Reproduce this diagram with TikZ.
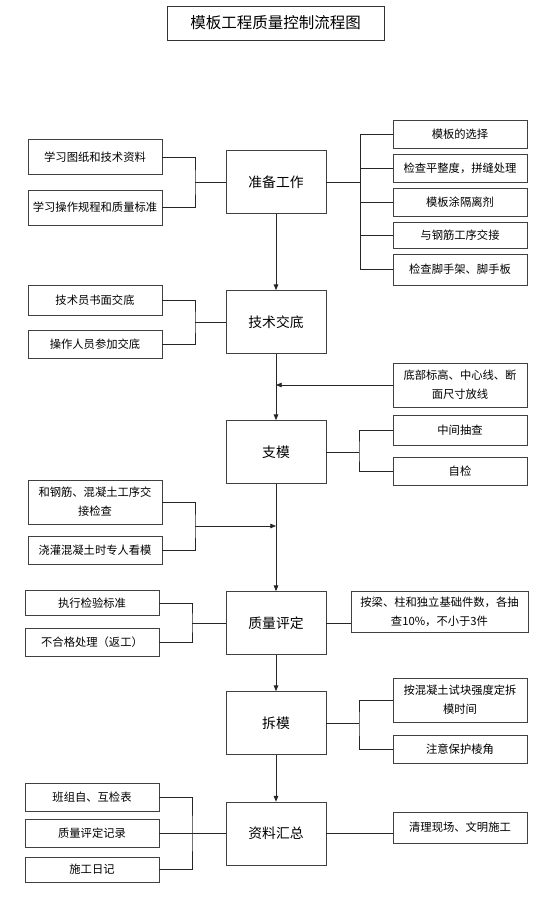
\documentclass[tikz,border=0pt]{standalone}
\usepackage{fontspec}
\setmainfont{Noto Sans CJK SC}
\usetikzlibrary{arrows.meta, positioning, calc}

\begin{document}
\begin{tikzpicture}[x=1pt, y=-1pt,
  box/.style={rectangle, draw=black!75, line width=0.7pt, minimum width=134pt, minimum height=28pt, inner sep=1pt, align=center, font=\fontsize{11.3}{19}\selectfont},
  stage/.style={rectangle, draw=black!75, line width=0.7pt, minimum width=100pt, minimum height=63pt, font=\fontsize{13.8}{16}\selectfont},
  link/.style={draw=black!85, line width=0.8pt},
  arrow/.style={link, -{Triangle[length=2mm, width=1.6mm]}},
]
\useasboundingbox (0,0) rectangle (555,900);

\node[draw=black!80, line width=0.8pt, minimum width=217pt, minimum height=34pt, font=\fontsize{15.5}{18}\selectfont] (title) at (275.5,23) {模板工程质量控制流程图};

% main stages
\node[stage] (prep) at (276,182) {准备工作};
\node[stage] (brief) at (276,322) {技术交底};
\node[stage] (erect) at (276,452) {支模};
\node[stage] (qual) at (276,623) {质量评定};
\node[stage] (strip) at (276,723) {拆模};
\node[stage] (docs) at (276,833.5) {资料汇总};

% left side
\node[box, minimum height=35pt] (drawings) at (95,157) {学习图纸和技术资料};
\node[box, minimum height=35pt] (rules) at (95,207.5) {学习操作规程和质量标准};
\node[box, minimum height=30pt] (written) at (95,300) {技术员书面交底};
\node[box] (staff) at (95,344) {操作人员参加交底};
\node[box, minimum height=44pt] (handover) at (95,502) {和钢筋、混凝土工序交\\接检查};
\node[box] (watch) at (95,550) {浇灌混凝土时专人看模};
\node[box, minimum height=25pt] (standard) at (92,603) {执行检验标准};
\node[box] (rework) at (92,642) {不合格处理（返工）};
\node[box] (selfcheck) at (92,797.5) {班组自、互检表};
\node[box] (record) at (92,833.5) {质量评定记录};
\node[box, minimum height=25pt] (diary) at (92,869.5) {施工日记};

% right side
\node[box] (choose) at (460,134) {模板的选择};
\node[box] (flat) at (460,168) {检查平整度，拼缝处理};
\node[box] (release) at (460,202.5) {模板涂隔离剂};
\node[box, minimum height=26pt] (rebar) at (460,235) {与钢筋工序交接};
\node[box, minimum height=31pt] (scaffold) at (460,269.5) {检查脚手架、脚手板};
\node[box, minimum height=44pt] (layout) at (460,385) {底部标高、中心线、断\\面尺寸放线};
\node[box, minimum height=30pt] (spot) at (460,430) {中间抽查};
\node[box] (self) at (460,471) {自检};
\node[box, minimum width=177pt, minimum height=41pt] (sample) at (439.5,611.5) {按梁、柱和独立基础件数，各抽\\查10\%，不小于3件};
\node[box, minimum height=44pt] (timing) at (460,700) {按混凝土试块强度定拆\\模时间};
\node[box] (corner) at (460,749.5) {注意保护棱角};
\node[box, minimum height=31pt] (clean) at (460,827.5) {清理现场、文明施工};

% preparation
\coordinate (jprepL) at (195,182);
\draw[link] (drawings.east) -| (jprepL) |- (rules.east);
\draw[link] (jprepL) -- (prep.west);
\coordinate (jprepR) at (360,182);
\draw[link] (prep.east) -- (jprepR);
\draw[link] (jprepR |- choose.west) -- (jprepR |- scaffold.west);
\draw[link] (jprepR |- choose.west) -- (choose.west);
\draw[link] (jprepR |- flat.west) -- (flat.west);
\draw[link] (jprepR |- release.west) -- (release.west);
\draw[link] (jprepR |- rebar.west) -- (rebar.west);
\draw[link] (jprepR |- scaffold.west) -- (scaffold.west);

% briefing
\draw[arrow] (prep.south) -- (brief.north);
\coordinate (jbriefL) at (195,322);
\draw[link] (written.east) -| (jbriefL) |- (staff.east);
\draw[link] (jbriefL) -- (brief.west);

% erection
\draw[arrow] (brief.south) -- (erect.north);
\draw[arrow] (layout.west) -- (layout.west -| brief.south);
\coordinate (jerectR) at (359,452);
\draw[link] (erect.east) -- (jerectR);
\draw[link] (spot.west) -| (jerectR) |- (self.west);

% quality
\draw[arrow] (erect.south) -- (qual.north);
\coordinate (jerectL) at (195,526);
\draw[link] (handover.east) -| (jerectL) |- (watch.east);
\draw[arrow] (jerectL) -- (jerectL -| erect.south);
\coordinate (jqualL) at (192,623);
\draw[link] (standard.east) -| (jqualL) |- (rework.east);
\draw[link] (jqualL) -- (qual.west);
\draw[link] (qual.east) -- (qual.east -| sample.west);

% stripping
\draw[arrow] (qual.south) -- (strip.north);
\coordinate (jstripR) at (359,723);
\draw[link] (strip.east) -- (jstripR);
\draw[link] (timing.west) -| (jstripR) |- (corner.west);

% records
\draw[arrow] (strip.south) -- (docs.north);
\coordinate (jdocsL) at (192,833.5);
\draw[link] (selfcheck.east) -| (jdocsL) |- (diary.east);
\draw[link] (record.east) -- (docs.west);
\draw[link] (docs.east) -- (docs.east -| clean.west);

\end{tikzpicture}
\end{document}
